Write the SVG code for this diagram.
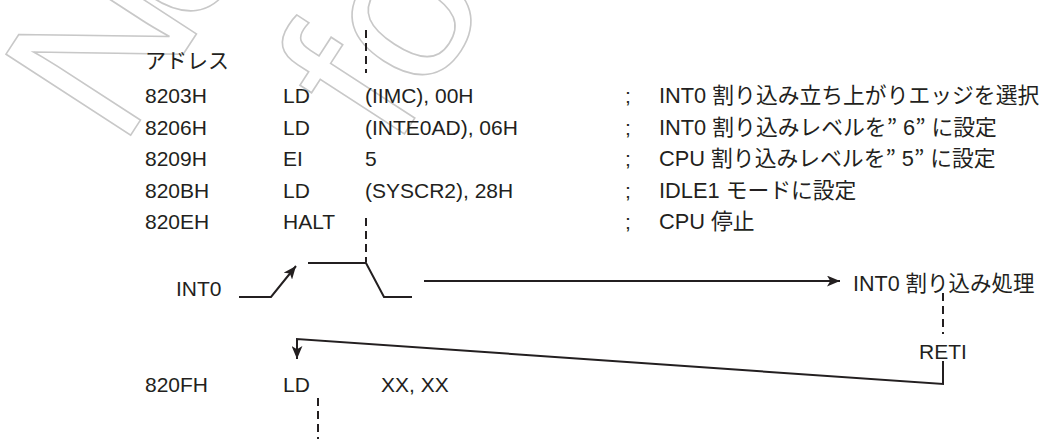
<svg xmlns="http://www.w3.org/2000/svg" width="1058" height="439" viewBox="0 0 1058 439">
<style>
.t{font-family:"Liberation Sans","Noto Sans CJK JP",sans-serif;font-size:21px;fill:#231f20}
.c{font-family:"Liberation Sans","Noto Sans CJK JP",sans-serif;font-size:21.8px;fill:#231f20}
.h{font-family:"Liberation Sans","Noto Sans CJK JP",sans-serif;font-size:21.5px;fill:#231f20}
.q{font-family:"Noto Sans CJK JP",sans-serif}
.wm{font-family:"Liberation Sans",sans-serif;font-size:216px;fill:none;stroke:#c8c8c8;stroke-width:1.6}
.ln{fill:none;stroke:#231f20;stroke-width:2}
.ds{fill:none;stroke:#231f20;stroke-width:2;stroke-dasharray:8 5}
</style>
<defs>
<marker id="ah" viewBox="0 0 12 10" refX="12" refY="5" markerWidth="13" markerHeight="11" markerUnits="userSpaceOnUse" orient="auto">
<path d="M0,0 L12,5 L0,10 L3,5 z" fill="#231f20"/>
</marker>
</defs>
<g id="watermark">
<text class="wm" letter-spacing="-20" transform="translate(121,150) rotate(-57)">Not</text>
<text class="wm" transform="translate(394,150) rotate(-57)">for</text>
</g>
<g id="header"><text class="t" x="145" y="68">アドレス</text></g>
<g id="row1">
<text class="t" x="145" y="103">8203H</text><text class="t" x="283" y="103">LD</text><text class="t" x="365" y="103">(IIMC), 00H</text>
<text class="t" x="625" y="103">;</text><text class="c" x="659" y="103">INT0 割り込み立ち上がりエッジを選択</text>
</g>
<g id="row2">
<text class="t" x="145" y="134.5">8206H</text><text class="t" x="283" y="134.5">LD</text><text class="t" x="365" y="134.5">(INTE0AD), 06H</text>
<text class="t" x="625" y="134.5">;</text><text class="c" x="659" y="134.5">INT0 割り込みレベルを<tspan class="q">”</tspan><tspan dx="6">6</tspan><tspan class="q">”</tspan><tspan dx="6">に設定</tspan></text>
</g>
<g id="row3">
<text class="t" x="145" y="166">8209H</text><text class="t" x="283" y="166">EI</text><text class="t" x="365" y="166">5</text>
<text class="t" x="625" y="166">;</text><text class="c" x="659" y="166">CPU 割り込みレベルを<tspan class="q">”</tspan><tspan dx="6">5</tspan><tspan class="q">”</tspan><tspan dx="6">に設定</tspan></text>
</g>
<g id="row4">
<text class="t" x="145" y="197.5">820BH</text><text class="t" x="283" y="197.5">LD</text><text class="t" x="365" y="197.5">(SYSCR2), 28H</text>
<text class="t" x="625" y="197.5">;</text><text class="c" x="659" y="197.5">IDLE1 モードに設定</text>
</g>
<g id="row5">
<text class="t" x="145" y="229">820EH</text><text class="t" x="283" y="229">HALT</text>
<text class="t" x="625" y="229">;</text><text class="c" x="659" y="229">CPU 停止</text>
</g>
<g id="int0"><text class="t" x="176" y="296">INT0</text></g>
<g id="handler"><text class="h" x="853" y="291">INT0 割り込み処理</text></g>
<g id="reti"><text class="t" x="943" y="359" text-anchor="middle">RETI</text></g>
<g id="row6">
<text class="t" x="145" y="392">820FH</text><text class="t" x="283" y="392">LD</text><text class="t" x="381" y="392">XX, XX</text>
</g>
<g id="connectors">
<path class="ds" d="M366,30 V73"/>
<path class="ds" d="M366,218 V262"/>
<path class="ln" d="M239,297 H271 L296,266" marker-end="url(#ah)"/>
<path class="ln" d="M308,263 H366 L384,297 H412"/>
<path class="ln" d="M424,281 H840" marker-end="url(#ah)"/>
<path class="ds" d="M943,293 V334"/>
<path class="ln" d="M943,361 V384 L297,339 V359" marker-end="url(#ah)"/>
<path class="ds" d="M318,398 V439"/>
</g>
</svg>
